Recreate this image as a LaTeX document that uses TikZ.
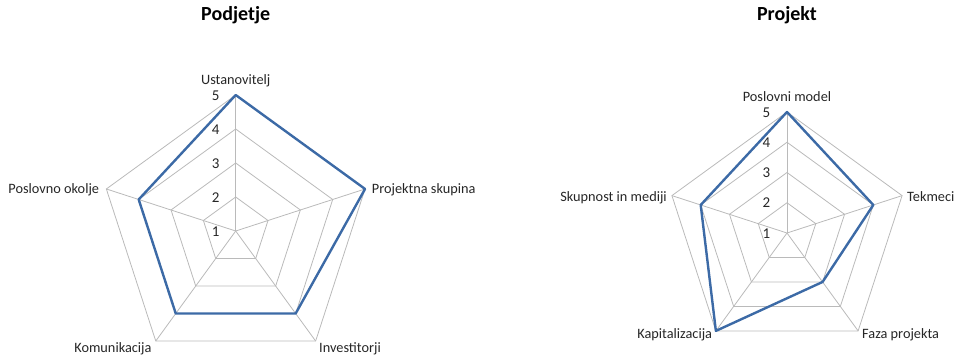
\documentclass[tikz,border=0pt]{standalone}
\usepackage{fontspec}
\setmainfont{Carlito}
\definecolor{gridc}{HTML}{BABABA}
\definecolor{datac}{HTML}{3C6AA6}
\definecolor{txtc}{HTML}{262626}
\tikzset{
  gridline/.style={draw=gridc, line width=0.8pt},
  dataline/.style={draw=datac, line width=2.4pt, line join=round},
  axlabel/.style={inner sep=0pt, text=txtc, font=\fontsize{14.3}{15}\selectfont},
  ticklabel/.style={inner sep=0pt, text=txtc, font=\fontsize{15}{16}\selectfont, anchor=base east},
  charttitle/.style={inner sep=0pt, text=black, font=\fontsize{20}{22}\selectfont\bfseries, anchor=base},
}
\begin{document}
\begin{tikzpicture}[x=1pt,y=-1pt]
\useasboundingbox (0,0) rectangle (963,357);
% ---------- left chart ----------
\def\cx{235.7}\def\cy{231}\def\R{136}
\foreach \r in {1,2,3,4}{
  \draw[gridline] ({\cx},{\cy-\r*\R/4}) \foreach \i in {1,...,4}{ -- ({\cx+\r*\R/4*sin(72*\i)},{\cy-\r*\R/4*cos(72*\i)})} -- cycle;
}
\foreach \i in {0,...,4}{
  \coordinate (Lo\i) at ({\cx+\R*sin(72*\i)},{\cy-\R*cos(72*\i)});
  \draw[gridline] (\cx,\cy) -- (Lo\i);
}
\foreach \v [count=\i from 0] in {5,5,4,4,4}{
  \coordinate (Ld\i) at ({\cx+(\v-1)*\R/4*sin(72*\i)},{\cy-(\v-1)*\R/4*cos(72*\i)});
}
\draw[dataline] (Ld0) -- (Ld1) -- (Ld2) -- (Ld3) -- (Ld4) -- cycle;
\foreach \v in {1,...,5}{
  \node[ticklabel] (Lt\v) at ({\cx-16},{\cy-(\v-1)*\R/4+5}) {\v};
}
\node[axlabel, anchor=base] (La0) at (235.7,84) {Ustanovitelj};
\node[axlabel, anchor=base west] (La1) at (371.7,193) {Projektna skupina};
\node[axlabel, anchor=base west] (La2) at (319,352) {Investitorji};
\node[axlabel, anchor=base east] (La3) at (151.7,352) {Komunikacija};
\node[axlabel, anchor=base east] (La4) at (99.3,193) {Poslovno okolje};
\node[charttitle] (Ltitle) at (235.7,20.7) {Podjetje};
% ---------- right chart ----------
\def\cx{787}\def\cy{233}\def\R{121}
\foreach \r in {1,2,3,4}{
  \draw[gridline] ({\cx},{\cy-\r*\R/4}) \foreach \i in {1,...,4}{ -- ({\cx+\r*\R/4*sin(72*\i)},{\cy-\r*\R/4*cos(72*\i)})} -- cycle;
}
\foreach \i in {0,...,4}{
  \coordinate (Ro\i) at ({\cx+\R*sin(72*\i)},{\cy-\R*cos(72*\i)});
  \draw[gridline] (\cx,\cy) -- (Ro\i);
}
\foreach \v [count=\i from 0] in {5,4,3,5,4}{
  \coordinate (Rd\i) at ({\cx+(\v-1)*\R/4*sin(72*\i)},{\cy-(\v-1)*\R/4*cos(72*\i)});
}
\draw[dataline] (Rd0) -- (Rd1) -- (Rd2) -- (Rd3) -- (Rd4) -- cycle;
\foreach \v in {1,...,5}{
  \node[ticklabel] (Rt\v) at ({\cx-16.5},{\cy-(\v-1)*\R/4+5}) {\v};
}
\node[axlabel, anchor=base] (Ra0) at (787,101) {Poslovni model};
\node[axlabel, anchor=base west] (Ra1) at (907,201) {Tekmeci};
\node[axlabel, anchor=base west] (Ra2) at (862,338) {Faza projekta};
\node[axlabel, anchor=base east] (Ra3) at (712.3,338) {Kapitalizacija};
\node[axlabel, anchor=base east] (Ra4) at (667,201) {Skupnost in mediji};
\node[charttitle] (Rtitle) at (787,20.7) {Projekt};
\end{tikzpicture}
\end{document}
